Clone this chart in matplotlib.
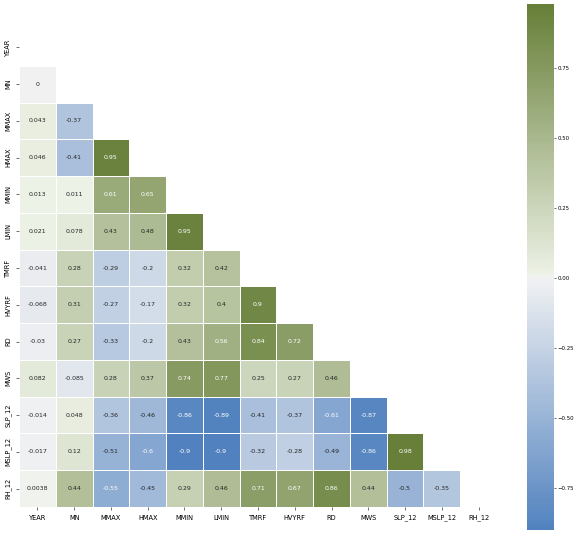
import numpy as np
import pandas as pd
import seaborn as sns
import matplotlib
matplotlib.use("Agg")
import matplotlib.pyplot as plt

# Variable names (rows/columns of the correlation matrix)
variables = ["YEAR", "MN", "MMAX", "HMAX", "MMIN", "LMIN", "TMRF",
             "HVYRF", "RD", "MWS", "SLP_12", "MSLP_12", "RH_12"]

# Lower-triangle correlation values, one list per row (columns before the diagonal)
row_mn = [0]
row_mmax = [0.043, -0.37]
row_hmax = [0.046, -0.41, 0.95]
row_mmin = [0.013, 0.011, 0.61, 0.65]
row_lmin = [0.021, 0.078, 0.43, 0.48, 0.95]
row_tmrf = [-0.041, 0.28, -0.29, -0.2, 0.32, 0.42]
row_hvyrf = [-0.068, 0.31, -0.27, -0.17, 0.32, 0.4, 0.9]
row_rd = [-0.03, 0.27, -0.33, -0.2, 0.43, 0.56, 0.84, 0.72]
row_mws = [0.082, -0.085, 0.28, 0.37, 0.74, 0.77, 0.25, 0.27, 0.46]
row_slp = [-0.014, 0.048, -0.36, -0.46, -0.86, -0.89, -0.41, -0.37, -0.61, -0.87]
row_mslp = [-0.017, 0.12, -0.51, -0.6, -0.9, -0.9, -0.32, -0.28, -0.49, -0.86, 0.98]
row_rh = [0.0038, 0.44, -0.55, -0.45, 0.29, 0.46, 0.71, 0.67, 0.86, 0.44, -0.5, -0.35]

lower_rows = [row_mn, row_mmax, row_hmax, row_mmin, row_lmin, row_tmrf,
              row_hvyrf, row_rd, row_mws, row_slp, row_mslp, row_rh]

# Build symmetric correlation matrix
n = len(variables)
mat = np.eye(n)
for i, vals in enumerate(lower_rows, start=1):
    for j, v in enumerate(vals):
        mat[i, j] = v
        mat[j, i] = v
corr = pd.DataFrame(mat, index=variables, columns=variables)

mask = np.triu(np.ones_like(mat, dtype=bool))
cmap = sns.diverging_palette(250, 105, as_cmap=True)

fig = plt.figure(figsize=(5.75, 5.33), dpi=100)
ax = fig.add_axes([19 / 575, 26 / 533, 478 / 575, 478 / 533])
cax = fig.add_axes([527 / 575, 3 / 533, 27 / 575, 526 / 533])

sns.heatmap(corr, mask=mask, cmap=cmap, center=0, annot=True, square=True,
            linewidths=0.5, linecolor="white", ax=ax, cbar_ax=cax,
            annot_kws={"size": 4.5})

ax.tick_params(axis="both", labelsize=4.8, length=2, width=0.4)
ax.set_xticklabels(variables, rotation=0)
ax.set_yticklabels(variables, rotation=90, va="center")
cax.tick_params(labelsize=3.9, length=1.5, width=0.4, pad=1)
cax.set_yticks([-0.75, -0.5, -0.25, 0.0, 0.25, 0.5, 0.75])

fig.savefig("out.png", dpi=100)
